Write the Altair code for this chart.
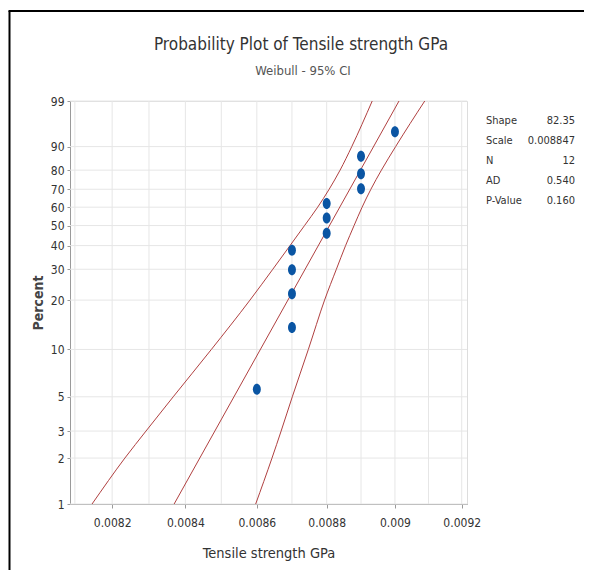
import math
import altair as alt
import pandas as pd

# ---- data ----
pts_x = [0.0086, 0.0087, 0.0087, 0.0087, 0.0087, 0.0088, 0.0088, 0.0088,
         0.0089, 0.0089, 0.0089, 0.0090]
pts_pct = [5.6, 13.7, 21.8, 29.8, 37.9, 46.0, 54.0, 62.1, 70.2, 78.2, 86.3, 94.4]

fit_pct = [1, 99]
fit_x = [0.008369, 0.009012]

ci_pct = [1, 2, 3, 5, 10, 20, 30, 40, 50, 60, 70, 80, 90, 99]
ci_left_x = [0.0081459, 0.0082344, 0.0082918, 0.0083665, 0.0084722, 0.0085806,
             0.0086453, 0.0086944, 0.0087361, 0.0087739, 0.0088072, 0.0088389,
             0.0088730, 0.0089329]
ci_right_x = [0.0085967, 0.0086430, 0.0086690, 0.0087010, 0.0087470, 0.0087939,
              0.0088281, 0.0088549, 0.0088797, 0.0089032, 0.0089290, 0.0089600,
              0.0090020, 0.0090887]

y_ticks = [1, 2, 3, 5, 10, 20, 30, 40, 50, 60, 70, 80, 90, 99]
x_ticks = [0.0082, 0.0084, 0.0086, 0.0088, 0.009, 0.0092]
x_grid = [0.0081, 0.0082, 0.0083, 0.0084, 0.0085, 0.0086, 0.0087, 0.0088,
          0.0089, 0.0090, 0.0091, 0.0092]

stat_labels = ["Shape", "Scale", "N", "AD", "P-Value"]
stat_values = ["82.35", "0.008847", "12", "0.540", "0.160"]

title_text = "Probability Plot of Tensile strength GPa"
subtitle_text = "Weibull - 95% CI"

FONT = "Liberation Sans Narrow, DejaVu Sans Condensed, Roboto Condensed, Roboto"


def wb(p):
    """Weibull probability-paper transform of a percent."""
    return math.log(-math.log(1 - p / 100.0))


W, H = 397, 403
x_dom = [0.008087, 0.009216]
y_dom = [wb(1), wb(99)]

xscale = alt.Scale(type="log", domain=x_dom, nice=False, zero=False)
yscale = alt.Scale(domain=y_dom, nice=False, zero=False)

pts = pd.DataFrame({"x": pts_x, "pct": pts_pct})
pts["v"] = [wb(p) for p in pts_pct]

lines = []
for name, xs, ps in [("fit", fit_x, fit_pct), ("left", ci_left_x, ci_pct),
                     ("right", ci_right_x, ci_pct)]:
    for xv, pv in zip(xs, ps):
        lines.append({"s": name, "x": xv, "pct": pv, "v": wb(pv)})
lines = pd.DataFrame(lines)

xg = pd.DataFrame({"x": x_grid})
yg = pd.DataFrame({"v": [wb(p) for p in y_ticks]})

x_axis = alt.Axis(values=x_ticks, format="~g", title="Tensile strength GPa",
                  grid=False, tickSize=4, labelPadding=9, titlePadding=18,
                  domainColor="#9a9a9a", tickColor="#9a9a9a",
                  labelFont=FONT, labelFontSize=12, labelColor="#333333",
                  titleFont=FONT, titleFontSize=14.5, titleFontWeight="normal",
                  titleColor="#333333")
y_axis = alt.Axis(values=[wb(p) for p in y_ticks],
                  labelExpr="round(100*(1-exp(-exp(datum.value))))",
                  title="Percent", grid=False, tickSize=3, labelPadding=3,
                  titlePadding=5, domainColor="#9a9a9a", tickColor="#9a9a9a",
                  labelFont=FONT, labelFontSize=12, labelColor="#333333",
                  titleFont=FONT, titleFontSize=14, titleFontWeight="bold",
                  titleColor="#444444")

x_enc = alt.X("x:Q", scale=xscale, axis=x_axis)
y_enc = alt.Y("v:Q", scale=yscale, axis=y_axis)

grid_x = alt.Chart(xg).mark_rule(color="#e6e6e6", strokeWidth=1).encode(x=x_enc)
grid_y = alt.Chart(yg).mark_rule(color="#e6e6e6", strokeWidth=1).encode(y=y_enc)

curve = alt.Chart(lines).mark_line(
    color="#b04040", strokeWidth=1, interpolate="monotone"
).encode(x=x_enc, y=y_enc, detail="s:N", order="pct:Q")

ellipse = "M0,-1A0.72,1,0,1,1,0,1A0.72,1,0,1,1,0,-1Z"
points = alt.Chart(pts).mark_point(
    shape=ellipse, filled=True, color="#0a55a3", opacity=1, size=121
).encode(x=x_enc, y=y_enc)

layers = [grid_x, grid_y, curve, points]

# chart title and subtitle, centred over the whole figure
td = pd.DataFrame({"t": [title_text], "s": [subtitle_text]})
layers.append(alt.Chart(td).mark_text(
    align="center", baseline="alphabetic", font=FONT, fontSize=17, color="#333333"
).encode(x=alt.value(231), y=alt.value(-51), text="t:N"))
layers.append(alt.Chart(td).mark_text(
    align="center", baseline="alphabetic", font=FONT, fontSize=13, color="#555555"
).encode(x=alt.value(233), y=alt.value(-26), text="s:N"))

# statistics table to the right of the plot
stat_y = [19.7, 40.2, 60.3, 80.0, 99.7]
for lab, val, yy in zip(stat_labels, stat_values, stat_y):
    d = pd.DataFrame({"lab": [lab], "val": [val]})
    layers.append(alt.Chart(d).mark_text(
        align="left", baseline="middle", font=FONT, fontSize=11, color="#333333"
    ).encode(x=alt.value(416), y=alt.value(yy), text="lab:N"))
    layers.append(alt.Chart(d).mark_text(
        align="right", baseline="middle", font=FONT, fontSize=11, color="#333333"
    ).encode(x=alt.value(505), y=alt.value(yy), text="val:N"))

# black frame around the figure (left and top edges visible)
frame = pd.DataFrame({"k": [1]})
layers.append(alt.Chart(frame).mark_rule(color="black", strokeWidth=2).encode(
    x=alt.value(-60.5), y=alt.value(-90), y2=alt.value(480)))
layers.append(alt.Chart(frame).mark_rule(color="black", strokeWidth=2).encode(
    x=alt.value(-61.5), x2=alt.value(530), y=alt.value(-90)))

chart = alt.layer(*layers).properties(
    width=W, height=H,
    autosize=alt.AutoSizeParams(type="none"),
    padding={"left": 62, "top": 93, "right": 117, "bottom": 66},
).configure_view(stroke="#aaaaaa", strokeWidth=1).configure(background="white")

chart.save("out.html", embed_options={"renderer": "svg", "actions": False})
